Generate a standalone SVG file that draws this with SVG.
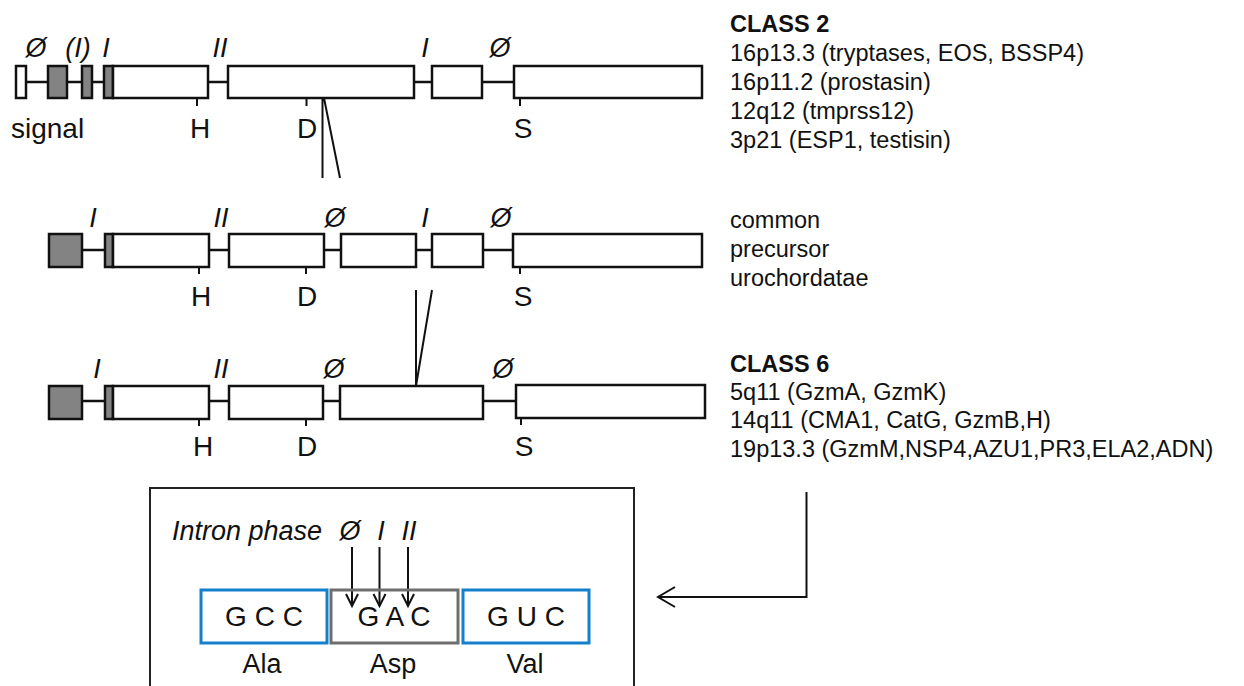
<svg xmlns="http://www.w3.org/2000/svg" width="1244" height="686" viewBox="0 0 1244 686">
  <style>
    text { font-family: "Liberation Sans", Arial, sans-serif; fill: #111; }
    .ph { font-size: 27px; font-style: italic; text-anchor: middle; }
    .res { font-size: 28px; text-anchor: middle; }
    .lab { font-size: 23.5px; }
    .bold { font-weight: bold; }
    .ex { fill: #fff; stroke: #111; stroke-width: 2.5; }
    .sig { fill: #838383; stroke: #111; stroke-width: 2.5; }
    .intr { stroke: #111; stroke-width: 2.5; fill: none; }
    .tick { stroke: #111; stroke-width: 2; }
    .conn { stroke: #111; stroke-width: 2; fill: none; }
    .codon { font-size: 28px; text-anchor: middle; }
    .aa { font-size: 27px; text-anchor: middle; }
  </style>
  <defs>
    <marker id="chev-s" markerUnits="userSpaceOnUse" markerWidth="20" markerHeight="20" viewBox="-16 -10 20 20" refX="0" refY="0" orient="auto">
      <path d="M-12,-6 L0,0 L-12,6" fill="none" stroke="#111" stroke-width="2"/>
    </marker>
    <marker id="chev-l" markerUnits="userSpaceOnUse" markerWidth="26" markerHeight="28" viewBox="-22 -14 26 28" refX="0" refY="0" orient="auto">
      <path d="M-17,-10 L0,0 L-17,10" fill="none" stroke="#111" stroke-width="2"/>
    </marker>
  </defs>

  <rect width="1244" height="686" fill="#fff"/>

  <!-- Class 2 gene structure -->
  <g id="gene-class2">
    <path class="intr" d="M26 82H48 M67 82H82 M92 82H104 M208 82H228 M414 82H432 M482 82H514"/>
    <rect class="ex" x="16" y="66" width="10" height="32"/>
    <rect class="sig" x="48" y="66" width="19" height="32"/>
    <rect class="sig" x="82" y="66" width="10" height="32"/>
    <rect class="sig" x="104" y="66" width="9" height="32"/>
    <rect class="ex" x="113" y="66" width="95" height="32"/>
    <rect class="ex" x="228" y="66" width="186" height="32"/>
    <rect class="ex" x="432" y="66" width="50" height="32"/>
    <rect class="ex" x="514" y="66" width="188" height="32"/>
    <path class="tick" d="M197 98V106 M306.5 98V106 M520 98V106"/>
    <text class="ph" x="36" y="57">Ø</text>
    <text class="ph" x="78" y="57">(I)</text>
    <text class="ph" x="106" y="57">I</text>
    <text class="ph" x="220" y="57">II</text>
    <text class="ph" x="425" y="57">I</text>
    <text class="ph" x="500" y="57">Ø</text>
    <text class="res" x="11" y="138" style="text-anchor:start">signal</text>
    <text class="res" x="200" y="138">H</text>
    <text class="res" x="307" y="138">D</text>
    <text class="res" x="523" y="138">S</text>
  </g>

  <!-- Common precursor gene structure -->
  <g id="gene-precursor">
    <path class="intr" d="M82 250H105 M209 250H229 M324 250H341 M416 250H432 M483 250H513"/>
    <rect class="sig" x="49" y="234" width="33" height="33"/>
    <rect class="sig" x="105" y="234" width="8" height="33"/>
    <rect class="ex" x="113" y="234" width="96" height="33"/>
    <rect class="ex" x="229" y="234" width="95" height="33"/>
    <rect class="ex" x="341" y="234" width="75" height="33"/>
    <rect class="ex" x="432" y="234" width="51" height="33"/>
    <rect class="ex" x="513" y="234" width="189" height="33"/>
    <path class="tick" d="M199 267V274 M306 267V274 M520 267V274"/>
    <text class="ph" x="93" y="227">I</text>
    <text class="ph" x="221" y="227">II</text>
    <text class="ph" x="335" y="227">Ø</text>
    <text class="ph" x="425" y="227">I</text>
    <text class="ph" x="501" y="227">Ø</text>
    <text class="res" x="201" y="306">H</text>
    <text class="res" x="307" y="306">D</text>
    <text class="res" x="523" y="306">S</text>
  </g>

  <!-- Class 6 gene structure -->
  <g id="gene-class6">
    <path class="intr" d="M82 401H105 M209 401H229 M323 401H340 M483 401H516"/>
    <rect class="sig" x="49" y="386" width="33" height="33"/>
    <rect class="sig" x="105" y="386" width="8" height="33"/>
    <rect class="ex" x="113" y="386" width="96" height="33"/>
    <rect class="ex" x="229" y="386" width="94" height="33"/>
    <rect class="ex" x="340" y="386" width="143" height="33"/>
    <rect class="ex" x="516" y="385" width="189" height="33"/>
    <path class="tick" d="M199 419V426 M306 419V426 M521 418V425"/>
    <text class="ph" x="97" y="378">I</text>
    <text class="ph" x="221" y="378">II</text>
    <text class="ph" x="334" y="378">Ø</text>
    <text class="ph" x="503" y="378">Ø</text>
    <text class="res" x="203" y="456">H</text>
    <text class="res" x="307" y="456">D</text>
    <text class="res" x="524" y="456">S</text>
  </g>

  <!-- Intron gain / loss marks and pointer to codon panel -->
  <g id="connectors">
    <path class="conn" d="M322.5 98V178 M324 98L340 178"/>
    <path class="conn" d="M416 290V386 M432 290L416 386"/>
    <path class="conn" d="M806.5 492V597H658" marker-end="url(#chev-l)"/>
    <path class="conn" d="M352 547V606" marker-end="url(#chev-s)"/>
    <path class="conn" d="M379.5 547V606" marker-end="url(#chev-s)"/>
    <path class="conn" d="M408 547V606" marker-end="url(#chev-s)"/>
  </g>

  <!-- Class labels -->
  <g id="label-class2">
    <text class="lab bold" x="730" y="32">CLASS 2</text>
    <text class="lab" x="730" y="61">16p13.3 (tryptases, EOS, BSSP4)</text>
    <text class="lab" x="730" y="90">16p11.2 (prostasin)</text>
    <text class="lab" x="730" y="119">12q12 (tmprss12)</text>
    <text class="lab" x="730" y="148">3p21 (ESP1, testisin)</text>
  </g>
  <g id="label-precursor">
    <text class="lab" x="730" y="228">common</text>
    <text class="lab" x="730" y="257">precursor</text>
    <text class="lab" x="730" y="286">urochordatae</text>
  </g>
  <g id="label-class6">
    <text class="lab bold" x="730" y="372">CLASS 6</text>
    <text class="lab" x="730" y="400">5q11 (GzmA, GzmK)</text>
    <text class="lab" x="730" y="428">14q11 (CMA1, CatG, GzmB,H)</text>
    <text class="lab" x="730" y="457">19p13.3 (GzmM,NSP4,AZU1,PR3,ELA2,ADN)</text>
  </g>

  <!-- Codon / intron phase panel -->
  <g id="phase-panel">
    <rect x="150" y="488" width="484" height="230" fill="none" stroke="#222" stroke-width="2"/>
    <text x="172" y="540" style="font-size:27px;font-style:italic">Intron phase</text>
    <text class="ph" x="350" y="540">Ø</text>
    <text class="ph" x="381" y="540">I</text>
    <text class="ph" x="409" y="540">II</text>
  </g>
  <g id="codon-ala">
    <rect x="201" y="590" width="126" height="53" fill="#fff" stroke="#1480cc" stroke-width="3"/>
    <text class="codon" x="264" y="626">G C C</text>
    <text class="aa" x="262" y="673">Ala</text>
  </g>
  <g id="codon-asp">
    <rect x="331" y="590" width="127" height="53" fill="none" stroke="#6e6e6e" stroke-width="3"/>
    <text class="codon" x="394" y="626">G A C</text>
    <text class="aa" x="393" y="673">Asp</text>
  </g>
  <g id="codon-val">
    <rect x="463" y="590" width="126" height="53" fill="#fff" stroke="#1480cc" stroke-width="3"/>
    <text class="codon" x="526" y="626">G U C</text>
    <text class="aa" x="525" y="673">Val</text>
  </g>
</svg>
